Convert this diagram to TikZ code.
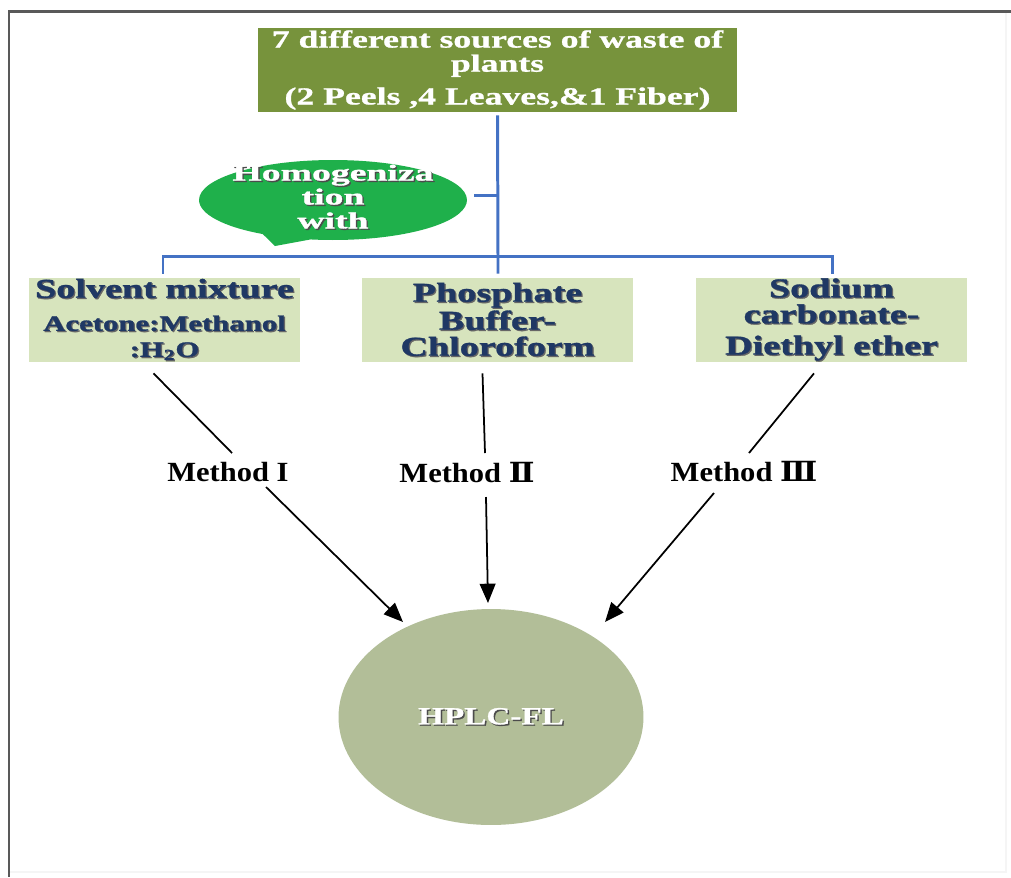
\documentclass[tikz,border=0pt]{standalone}
\usepackage{fontspec}
\setmainfont{Liberation Serif}
\newfontfamily\fTop[FakeStretch=1.45,FakeBold=1]{Liberation Serif}
\newfontfamily\fBox[FakeStretch=1.4,FakeBold=1.2]{Liberation Serif}
\newfontfamily\fBub[FakeStretch=1.65,FakeBold=1.5]{Liberation Serif}
\newfontfamily\fHp[FakeStretch=1.35,FakeBold=1]{Liberation Serif}
\newfontfamily\fMet[FakeStretch=1.1]{Liberation Serif}
\newfontfamily\fRom[FakeStretch=1.1]{DejaVu Serif}
\usetikzlibrary{shapes.geometric,shapes.callouts,arrows.meta,calc}
\definecolor{topgreen}{HTML}{77933C}
\definecolor{bubgreen}{HTML}{1FB04B}
\definecolor{boxgreen}{HTML}{D7E4BD}
\definecolor{linkblue}{HTML}{4472C4}
\definecolor{navytxt}{HTML}{1F3864}
\definecolor{sage}{HTML}{B2BE98}
\newcommand\shw[1]{\leavevmode\rlap{\kern0.8pt\raisebox{-0.8pt}{\textcolor{black!70}{#1}}}\textcolor{white}{#1}}
\newcommand\shb[1]{\leavevmode\rlap{\kern0.7pt\raisebox{-0.7pt}{\textcolor{black!60}{#1}}}\textcolor{navytxt}{#1}}
\newcommand\ctext[1]{\smash{\makebox[0pt]{\raisebox{-2.8pt}{\begin{tabular}{@{}c@{}}#1\end{tabular}}}}}
\begin{document}
\begin{tikzpicture}[x=0.02cm,y=-0.02cm,
  bl/.style={draw=linkblue,line width=1.7pt},
  blk/.style={draw=black,line width=1pt},
  arr/.style={blk,-{Triangle[length=11pt,width=9pt]}},
  topbox/.style={fill=topgreen,minimum width=9.58cm,minimum height=1.68cm,inner sep=0pt,align=center,text=white,
    font=\fTop\bfseries\fontsize{14}{13.7}\selectfont},
  subbox/.style={fill=boxgreen,minimum width=5.42cm,minimum height=1.68cm,inner sep=0pt,align=center,
    font=\fBox\bfseries\fontsize{15.5}{14.8}\selectfont},
  bubble/.style={ellipse callout,fill=bubgreen,minimum width=5.36cm,minimum height=1.6cm,inner sep=0pt,
    callout pointer arc=22,font=\fBub\bfseries\fontsize{13}{13.6}\selectfont},
  method/.style={inner sep=0pt,font=\fMet\bfseries\fontsize{15.8}{16}\selectfont},
  result/.style={ellipse,fill=sage,minimum width=6.1cm,minimum height=4.32cm,inner sep=0pt,
    font=\fHp\bfseries\fontsize{14}{14}\selectfont}
]
\fill[white] (0,0) rectangle (1011,877);
\useasboundingbox (0,0) rectangle (1011,877);
% frame
\draw[black!4,line width=1pt] (1006,11) -- (1006,872) -- (9,872);
\draw[black!65,line width=1.7pt] (1011,11) -- (9,11) -- (9,877);

% nodes
\node[topbox] (top) at (497.5,70) {7 different sources of waste of\\plants\\[5pt](2 Peels ,4 Leaves,\&1 Fiber)};
\node[bubble,callout absolute pointer={(275,246)}] (bub) at (333,200)
  {\ctext{\shw{Homogeniza}\\\shw{tion}\\\shw{with}}};
\node[subbox] (b1) at (164.5,320) {\shb{Solvent mixture}\\[4pt]{\fontsize{12.5}{13}\selectfont\shb{Acetone:Methanol}}\\{\fontsize{12.5}{13}\selectfont\shb{:H\textsubscript{2}O}}};
\node[subbox] (b2) at (497.5,320) {\shb{Phosphate}\\\shb{Buffer-}\\\shb{Chloroform}};
\node[subbox] (b3) at (831.5,320) {\shb{Sodium}\\\shb{carbonate-}\\[3pt]\shb{Diethyl ether}};
\node[method] (m1) at (228,472) {Method I};
\node[method] (m2) at (467,473) {Method {\fRom Ⅱ}};
\node[method] (m3) at (744,472) {Method {\fRom Ⅲ}};
\node[result] (hp) at (491,717) {\shw{HPLC-FL}};

% blue tree
\coordinate (j) at (498,257);
\draw[bl,shorten <=1.7pt] (top.south) -- (j);
\draw[bl] ($(b1.north)+(-1.5,-4)$) |- ($(b3.north)+(0.5,-21)$) -- ($(b3.north)+(0.5,-4)$);
\draw[bl] (j) -- ($(b2.north)+(0.5,-4)$);
\draw[bl] ($(bub.east)+(7,-5)$) coordinate (tk) -- (tk -| j);

% black connectors
\draw[blk] ($(b1.south)+(-11,11)$) -- ($(m1)+(4,-19)$);
\draw[arr] ($(m1)+(38,15)$) -- ($(hp)+(-88,-95)$);
\draw[blk] ($(b2.south)+(-15,11)$) -- ($(m2)+(18,-20)$);
\draw[arr] ($(m2)+(19,24)$) -- ($(hp)+(-3,-114)$);
\draw[blk] ($(b3.south)+(-17.5,11)$) -- ($(m3)+(5,-19)$);
\draw[arr] ($(m3)+(-30,21)$) -- ($(hp)+(114,-95)$);
\end{tikzpicture}
\end{document}
